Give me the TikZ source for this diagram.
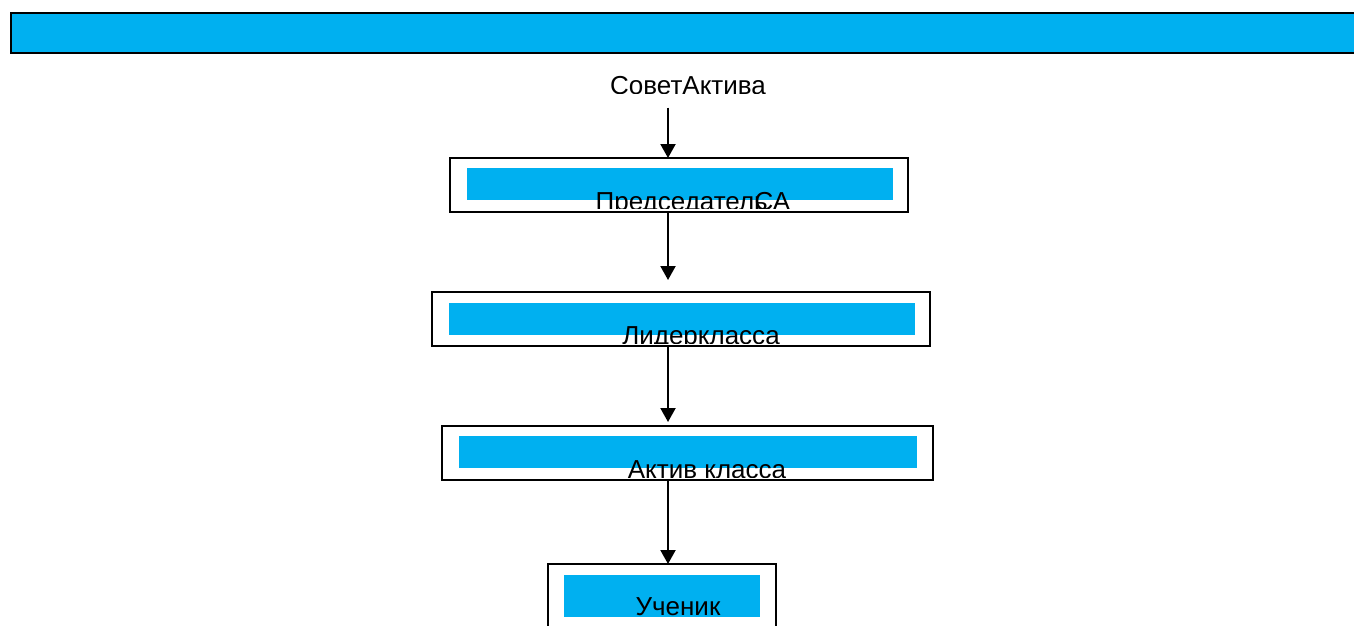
\documentclass[tikz,border=0pt]{standalone}
\usepackage{fontspec}
\setmainfont{Liberation Sans}
\usetikzlibrary{arrows.meta}
\definecolor{chartblue}{HTML}{00B0F0}
\tikzstyle{banner} = [rectangle, draw, line width=0.04cm, fill=chartblue,
    inner sep=0pt, outer sep=0pt]
\tikzstyle{frame} = [rectangle, draw, line width=0.025cm, inner sep=0pt,
    outer sep=0pt, minimum height=1.08cm]
\tikzstyle{strip} = [rectangle, fill=chartblue, inner sep=0pt, minimum height=0.64cm]
\tikzstyle{boxtext} = [anchor=base, inner sep=0pt, font=\fontsize{14.8}{17}\selectfont]
\tikzstyle{line} = [draw, line width=0.04cm, -{Triangle[length=0.28cm, width=0.3cm]}]

\begin{document}
\begin{tikzpicture}[x=0.02cm, y=-0.02cm]
    \useasboundingbox (0,0) rectangle (1354,625);
    % Place nodes
    \node [banner, minimum width=27.39cm, minimum height=0.8cm] (banner) at (695.25,33.2) {};
    \coordinate (axis) at (668,0);
    \begin{scope}
        \clip (500,60) rectangle (900,93.5);
        \node [boxtext] (sovet) at (688,94.6) {СоветАктива};
    \end{scope}
    % Председатель СА
    \node [strip, minimum width=8.52cm] (predstrip) at (680,184) {};
    \begin{scope}
        \clip (450,160) rectangle (910,208);
        \node [boxtext] (predtext) at (693,210.6) {Председатель\kern-0.5em СА};
    \end{scope}
    \node [frame, minimum width=9.16cm] (pred) at (679,185) {};
    % Лидер класса
    \node [strip, minimum width=9.32cm] (liderstrip) at (682,319) {};
    \begin{scope}
        \clip (432,294) rectangle (930,343);
        \node [boxtext] (lidertext) at (701,344.6) {Лидеркласса};
    \end{scope}
    \node [frame, minimum width=9.96cm] (lider) at (681,319) {};
    % Актив класса
    \node [strip, minimum width=9.16cm] (aktivstrip) at (688,452) {};
    \begin{scope}
        \clip (442,428) rectangle (933,477);
        \node [boxtext] (aktivtext) at (707,478.6) {Актив класса};
    \end{scope}
    \node [frame, minimum width=9.82cm] (aktiv) at (687.5,453) {};
    % Ученик
    \node [strip, minimum width=3.92cm, minimum height=0.84cm] (uchstrip) at (662,596) {};
    \begin{scope}
        \clip (548,566) rectangle (776,616);
        \node [boxtext] (uchtext) at (678,615.6) {Ученик};
    \end{scope}
    \node [frame, minimum width=4.56cm, minimum height=1.52cm] (uchenik) at (662,602) {};
    % Arrows
    \path [line, shorten <=0.25cm] (sovet.south -| axis) -- (pred.north -| axis);
    \path [line, shorten >=0.24cm] (pred.south -| axis) -- (lider.north -| axis);
    \path [line, shorten >=0.08cm] (lider.south -| axis) -- (aktiv.north -| axis);
    \path [line] (aktiv.south -| axis) -- (uchenik.north -| axis);
\end{tikzpicture}
\end{document}
